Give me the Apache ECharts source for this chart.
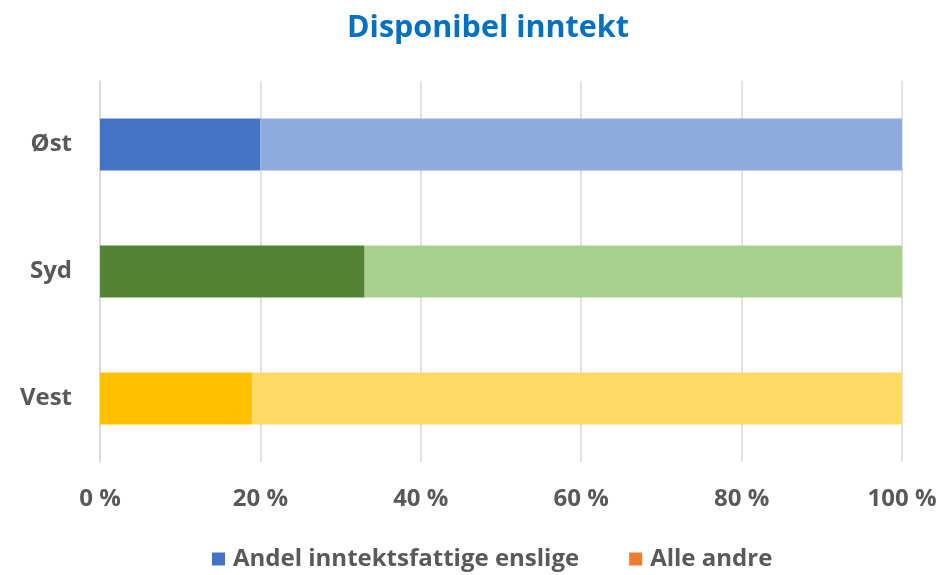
<!DOCTYPE html>
<html><head><meta charset="utf-8">
<script src="https://cdn.jsdelivr.net/npm/echarts@6/dist/echarts.min.js"></script>
<style>html,body{margin:0;padding:0;background:#fff}#c{width:942px;height:575px}</style>
</head><body><div id="c"></div>
<script>
const categories = ['Øst', 'Syd', 'Vest'];
const seriesNames = ['Andel inntektsfattige enslige', 'Alle andre'];
const andelValues = [20, 33, 19];
const andreValues = [80, 67, 81];
const darkColors = ['#4472C4', '#548235', '#FFC000'];
const lightColors = ['#8FAADC', '#A9D18E', '#FFD966'];
const legendColors = ['#4472C4', '#ED7D31'];

const font = '"Open Sans", "Noto Sans", sans-serif';
const chart = echarts.init(document.getElementById('c'));
chart.setOption({
  animation: false,
  title: { text: 'Disponibel inntekt', left: 342, top: 8,
    textStyle: { color: '#0070C0', fontSize: 30.5, fontWeight: 'bold', fontFamily: font } },
  legend: { top: 542, left: 207, itemWidth: 13, itemHeight: 13, itemGap: 50,
    icon: 'rect',
    textStyle: { color: '#595959', fontSize: 24, fontWeight: 'bold', fontFamily: font, padding: [0, 0, 0, 3] },
    data: seriesNames },
  grid: { left: 100, right: 40, top: 81, bottom: 113 },
  xAxis: { type: 'value', min: 0, max: 100, interval: 20,
    axisLabel: { formatter: '{value} %', color: '#595959', fontSize: 24, fontWeight: 'bold', fontFamily: font, margin: 25 },
    splitLine: { lineStyle: { color: '#D9D9D9', width: 1.5 } },
    axisLine: { show: false }, axisTick: { show: false } },
  yAxis: { type: 'category', data: categories, inverse: true,
    axisLabel: { color: '#595959', fontSize: 24, fontWeight: 'bold', fontFamily: font, margin: 28 },
    axisLine: { show: true, lineStyle: { color: '#D9D9D9', width: 1.5 } }, axisTick: { show: false } },
  series: [
    { name: seriesNames[0], type: 'bar', stack: 's', barWidth: 52,
      itemStyle: { color: legendColors[0] },
      data: andelValues.map((v, i) => ({ value: v, itemStyle: { color: darkColors[i] } })) },
    { name: seriesNames[1], type: 'bar', stack: 's', barWidth: 52,
      itemStyle: { color: legendColors[1] },
      data: andreValues.map((v, i) => ({ value: v, itemStyle: { color: lightColors[i] } })) }
  ]
});
</script></body></html>
